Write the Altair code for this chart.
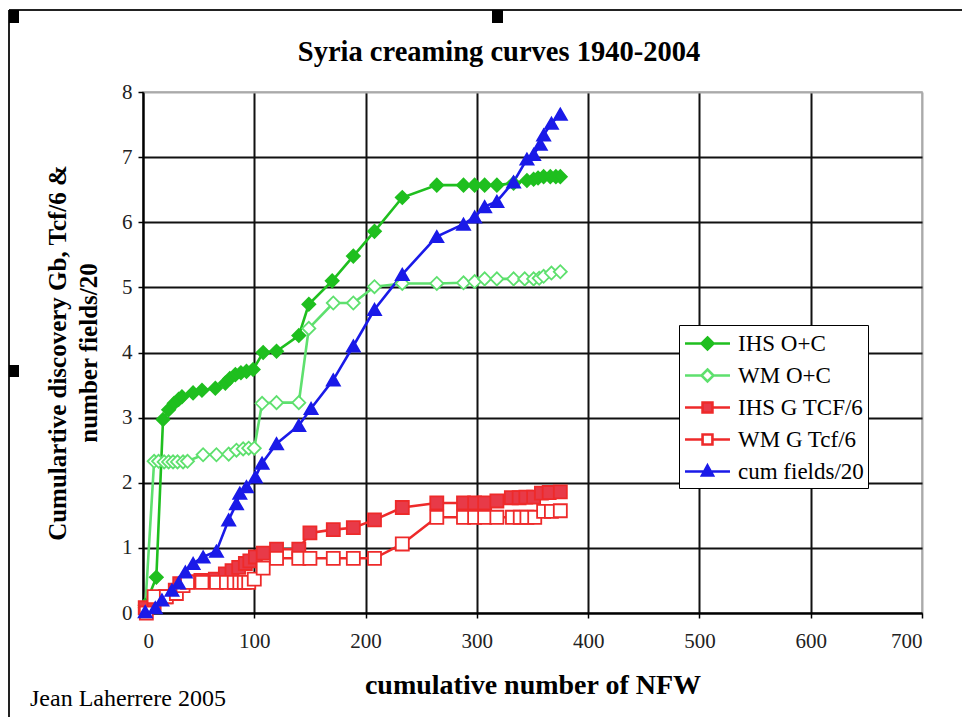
import altair as alt
import pandas as pd

series_names = ["IHS O+C", "WM O+C", "IHS G TCF/6", "WM G Tcf/6", "cum fields/20"]

ihs_oc_x = [2, 12, 18, 23, 28, 32, 35, 45, 53, 65, 74, 78, 83, 88, 93, 99, 108, 120, 140, 149, 170, 189, 208, 233, 264, 288, 298, 307, 318, 333, 345, 351, 355, 360, 366, 371, 375]
ihs_oc_y = [0.12, 0.55, 2.97, 3.12, 3.22, 3.28, 3.32, 3.38, 3.42, 3.45, 3.53, 3.6, 3.66, 3.69, 3.71, 3.74, 4.0, 4.02, 4.26, 4.74, 5.1, 5.48, 5.86, 6.38, 6.57, 6.57, 6.57, 6.57, 6.57, 6.6, 6.64, 6.66, 6.68, 6.7, 6.7, 6.7, 6.7]

wm_oc_x = [2, 10, 14, 19, 23, 27, 31, 36, 40, 54, 66, 77, 84, 90, 95, 100, 107, 120, 140, 149, 171, 189, 208, 233, 264, 288, 298, 307, 318, 333, 343, 351, 356, 360, 367, 375]
wm_oc_y = [0.08, 2.33, 2.33, 2.32, 2.32, 2.32, 2.32, 2.32, 2.33, 2.43, 2.43, 2.44, 2.5, 2.52, 2.53, 2.53, 3.22, 3.23, 3.23, 4.37, 4.76, 4.76, 5.01, 5.06, 5.06, 5.07, 5.09, 5.13, 5.13, 5.13, 5.13, 5.13, 5.14, 5.17, 5.22, 5.24]

ihs_g_x = [2, 10, 20, 29, 33, 40, 52, 65, 74, 80, 86, 92, 96, 101, 108, 120, 140, 150, 171, 189, 208, 233, 264, 288, 298, 307, 318, 331, 338, 344, 351, 358, 365, 375]
ihs_g_y = [0.08, 0.15, 0.25, 0.35, 0.45, 0.48, 0.5, 0.52, 0.6, 0.65, 0.7, 0.76, 0.8, 0.86, 0.92, 0.98, 0.98, 1.23, 1.28, 1.31, 1.43, 1.62, 1.69, 1.69, 1.69, 1.69, 1.72, 1.77, 1.77, 1.78, 1.78, 1.84, 1.85, 1.86]

wm_g_x = [3, 10, 21, 30, 36, 40, 53, 66, 75, 82, 87, 91, 95, 100, 108, 120, 140, 150, 171, 189, 208, 233, 264, 288, 298, 307, 318, 332, 339, 345, 352, 360, 367, 375]
wm_g_y = [0.0, 0.25, 0.25, 0.3, 0.42, 0.47, 0.47, 0.47, 0.47, 0.47, 0.47, 0.47, 0.47, 0.52, 0.69, 0.84, 0.84, 0.84, 0.84, 0.84, 0.84, 1.06, 1.47, 1.47, 1.47, 1.47, 1.47, 1.47, 1.47, 1.47, 1.47, 1.56, 1.56, 1.57]

fields_x = [2, 11, 17, 26, 32, 38, 45, 54, 66, 77, 84, 87, 93, 101, 107, 120, 140, 151, 171, 189, 208, 233, 264, 288, 298, 307, 318, 333, 345, 351, 357, 360, 367, 375]
fields_y = [0.02, 0.08, 0.2, 0.35, 0.46, 0.63, 0.76, 0.86, 0.95, 1.43, 1.68, 1.84, 1.94, 2.09, 2.3, 2.6, 2.88, 3.14, 3.58, 4.1, 4.66, 5.2, 5.78, 5.97, 6.08, 6.24, 6.32, 6.62, 6.97, 7.04, 7.2, 7.34, 7.52, 7.66]

x_ticks = [0, 100, 200, 300, 400, 500, 600, 700]
y_ticks = [0, 1, 2, 3, 4, 5, 6, 7, 8]

title_text = "Syria creaming curves 1940-2004"
credit_text = "Jean Laherrere 2005"

line_colors = ["#1fbf1f", "#5ee06e", "#ee2a2a", "#ee2a2a", "#1a1ae8"]
fill_colors = ["#1fbf1f", "#ffffff", "#e83a48", "#ffffff", "#1a1ae8"]
point_shapes = ["diamond", "diamond", "square", "square", "triangle-up"]
point_sizes = [170, 170, 105, 105, 115]
legend_shapes = [
    "M-1.73,0H-0.46M0.46,0H1.73M0,-0.46L0.46,0L0,0.46L-0.46,0Z",
    "M-1.73,0H-0.46M0.46,0H1.73M0,-0.46L0.46,0L0,0.46L-0.46,0Z",
    "M-1.73,0H-0.38M0.38,0H1.73M-0.38,-0.38H0.38V0.38H-0.38Z",
    "M-1.73,0H-0.38M0.38,0H1.73M-0.38,-0.38H0.38V0.38H-0.38Z",
    "M-1.73,0H1.73M0,-0.46L0.42,0.3L-0.42,0.3Z",
]

rows = []
for name, xs, ys in zip(
    series_names,
    [ihs_oc_x, wm_oc_x, ihs_g_x, wm_g_x, fields_x],
    [ihs_oc_y, wm_oc_y, ihs_g_y, wm_g_y, fields_y],
):
    for i, (a, b) in enumerate(zip(xs, ys)):
        rows.append({"series": name, "nfw": a, "value": b, "idx": i})
df = pd.DataFrame(rows)

FONT = "Liberation Serif"

grid_color_x = {"condition": {"test": "datum.value >= 700", "value": "#aaaaaa"}, "value": "#111111"}
grid_color_y = {"condition": {"test": "datum.value >= 8", "value": "#aaaaaa"}, "value": "#111111"}

x_enc = alt.X(
    "nfw:Q",
    scale=alt.Scale(domain=[0, 700], nice=False),
    axis=alt.Axis(values=x_ticks, title="cumulative number of NFW", gridColor=grid_color_x,
                  labelPadding=12, titlePadding=20, titleFontSize=28),
)
y_enc = alt.Y(
    "value:Q",
    scale=alt.Scale(domain=[0, 8], nice=False),
    axis=alt.Axis(values=y_ticks, title=["Cumulartive discovery Gb, Tcf/6 &", "number fields/20"],
                  gridColor=grid_color_y, labelPadding=6, titlePadding=20, titleLineHeight=31),
)


def cscale():
    return alt.Scale(domain=series_names, range=line_colors)


def fscale():
    return alt.Scale(domain=series_names, range=fill_colors)


base = alt.Chart(df)

lines = base.mark_line(strokeWidth=2.6).encode(
    x=x_enc, y=y_enc,
    color=alt.Color("series:N", scale=cscale(), legend=None),
    order=alt.Order("idx:Q"),
)

points = base.mark_point(strokeWidth=1.8, opacity=1).encode(
    x=x_enc, y=y_enc,
    color=alt.Color("series:N", scale=cscale(), legend=None),
    fill=alt.Fill("series:N", scale=fscale(), legend=None),
    shape=alt.Shape("series:N", scale=alt.Scale(domain=series_names, range=point_shapes), legend=None),
    size=alt.Size("series:N", scale=alt.Scale(domain=series_names, range=point_sizes), legend=None),
)

leg = alt.Legend(
    title=None, orient="none", legendX=536, legendY=233,
    labelFont=FONT, labelFontSize=23, labelColor="black",
    strokeColor="black", fillColor="white", padding=4,
    symbolSize=676, symbolStrokeWidth=2.6, symbolOffset=10, rowPadding=5, labelOffset=16,
)

legend_layer = base.transform_filter("false").mark_point(size=676, strokeWidth=2.6, opacity=1).encode(
    x=x_enc, y=y_enc,
    color=alt.Color("series:N", scale=cscale(), legend=leg),
    fill=alt.Fill("series:N", scale=fscale(), legend=leg),
    shape=alt.Shape("series:N", scale=alt.Scale(domain=series_names, range=legend_shapes), legend=leg),
)

one = pd.DataFrame({"k": [0]})
title = alt.Chart(one).mark_text(align="center", baseline="alphabetic", font=FONT, fontSize=28.5,
                                 fontWeight="bold", color="black").encode(
    x=alt.value(356), y=alt.value(-31), text=alt.value(title_text)
)
credit = alt.Chart(one).mark_text(align="left", baseline="middle", font=FONT, fontSize=24, color="black").encode(
    x=alt.value(-113), y=alt.value(607), text=alt.value(credit_text)
)

frame_v = alt.Chart(one).mark_rule(color="#222", strokeWidth=2).encode(
    x=alt.value(-134), y=alt.value(-82), y2=alt.value(625)
)
frame_h = alt.Chart(one).mark_rule(color="#222", strokeWidth=2).encode(
    x=alt.value(-134), x2=alt.value(830), y=alt.value(-82)
)
h1 = alt.Chart(one).mark_rect(color="black").encode(
    x=alt.value(-134), x2=alt.value(-124), y=alt.value(-82), y2=alt.value(-69)
)
h2 = alt.Chart(one).mark_rect(color="black").encode(
    x=alt.value(349), x2=alt.value(360), y=alt.value(-82), y2=alt.value(-69)
)
h3 = alt.Chart(one).mark_rect(color="black").encode(
    x=alt.value(-134), x2=alt.value(-124), y=alt.value(273), y2=alt.value(285)
)

chart = alt.layer(lines, points, legend_layer, title, credit, frame_v, frame_h, h1, h2, h3).resolve_scale(
    color="independent", fill="independent", shape="independent", size="independent"
).properties(
    width=779, height=521,
    autosize=alt.AutoSizeParams(type="none"),
    padding={"left": 135, "top": 84, "right": 40, "bottom": 104},
    background="white",
).configure_view(
    stroke="#aaaaaa", strokeWidth=1.5
).configure_axis(
    labelFont=FONT, labelFontSize=21, labelColor="#222222",
    titleFont=FONT, titleFontSize=25, titleFontWeight="bold", titleColor="black",
    tickColor="black", tickSize=5, tickWidth=1.5,
    domainColor="black", domainWidth=2,
    gridWidth=2, gridOpacity=1,
)

chart.save("out.html", embed_options={"renderer": "svg", "actions": False})
